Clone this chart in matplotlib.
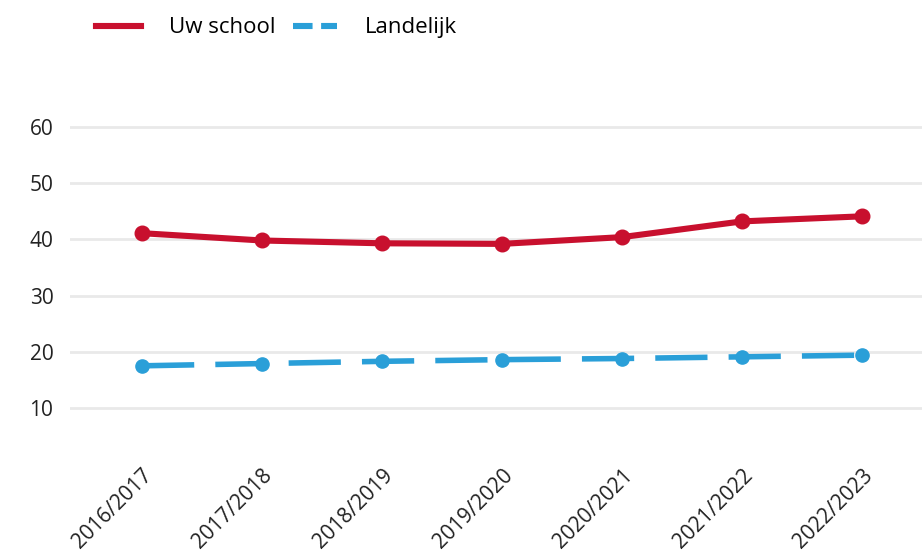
import matplotlib
matplotlib.use("Agg")
import matplotlib.pyplot as plt
from matplotlib.lines import Line2D

years = ["2016/2017", "2017/2018", "2018/2019", "2019/2020", "2020/2021", "2021/2022", "2022/2023"]
uw_school = [41.1, 39.8, 39.3, 39.2, 40.4, 43.2, 44.1]
landelijk = [17.5, 17.9, 18.3, 18.6, 18.8, 19.1, 19.4]
y_ticks = [10, 20, 30, 40, 50, 60]

RED = "#c8102e"
BLUE = "#2a9fd8"

plt.rcParams['font.family'] = ['Open Sans', 'DejaVu Sans']

fig = plt.figure(figsize=(9.22, 5.53), dpi=100)
ax = fig.add_axes([70/922, 113/553, 852/922, 340/553])

x = list(range(len(years)))
ax.plot(x, uw_school, color=RED, lw=4.4, marker='o', ms=10.5, solid_capstyle='round', zorder=3)
ax.plot(x, landelijk, color=BLUE, lw=4.0, marker='o', ms=9.5, dashes=(9.4, 3.8), zorder=3)

ax.set_xlim(-0.6, 6.5)
ax.set_ylim(4.3, 64.8)
ax.set_yticks(y_ticks)
ax.set_xticks(x)
ax.set_xticklabels(years, rotation=45, ha='right', rotation_mode='anchor', fontsize=15)
ax.tick_params(axis='both', length=0, labelsize=15, colors='#222222')
ax.tick_params(axis='y', pad=12)
ax.tick_params(axis='x', pad=18)
for s in ax.spines.values():
    s.set_visible(False)
ax.grid(axis='y', color='#e9e9e9', lw=2)
ax.set_axisbelow(True)

handles = [Line2D([], [], color=RED, lw=4.4),
           Line2D([], [], color=BLUE, lw=4.4, dashes=(3.2, 1.4))]
fig.legend(handles, ["Uw school", "Landelijk"], loc='upper left',
           bbox_to_anchor=(83/922, 1 - 4/553), ncol=2, frameon=False, borderpad=0.1,
           fontsize=16, handlelength=2.0, handletextpad=1.25, columnspacing=0.8)

fig.savefig("out.png", dpi=100)
